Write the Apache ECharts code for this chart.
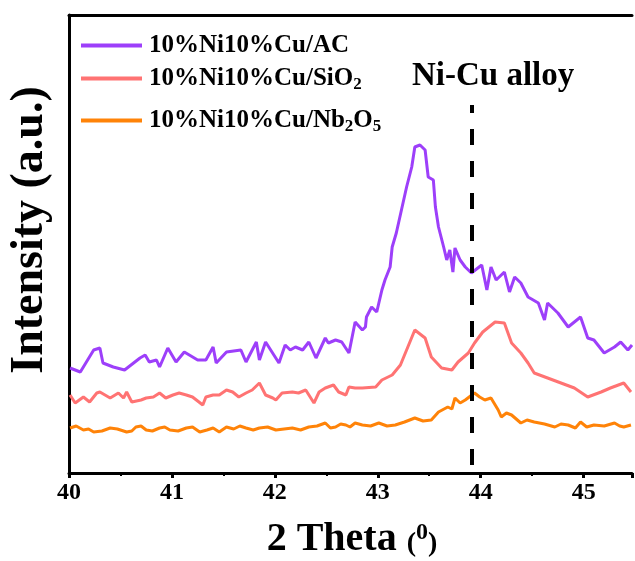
<!DOCTYPE html>
<html><head><meta charset="utf-8">
<script src="https://cdn.jsdelivr.net/npm/echarts@6/dist/echarts.min.js"></script>
<style>html,body{margin:0;padding:0;background:#fff}#c{width:635px;height:561px}</style>
</head><body><div id="c"></div>
<script>
const names = ['10%Ni10%Cu/AC', '10%Ni10%Cu/SiO2', '10%Ni10%Cu/Nb2O5'];
const xTicks = [40, 41, 42, 43, 44, 45];
const alloyPos = 43.91;

const acX = [40.01,40.11,40.24,40.30,40.33,40.43,40.54,40.69,40.74,40.78,40.85,40.88,40.96,41.04,41.12,41.25,41.33,41.40,41.43,41.53,41.67,41.72,41.82,41.85,41.91,42.04,42.10,42.15,42.20,42.27,42.33,42.40,42.49,42.52,42.59,42.65,42.72,42.78,42.85,42.88,42.89,42.94,42.99,43.04,43.07,43.12,43.14,43.18,43.23,43.28,43.33,43.36,43.41,43.46,43.49,43.54,43.56,43.59,43.64,43.67,43.70,43.73,43.75,43.80,43.85,43.91,44.01,44.06,44.10,44.15,44.23,44.28,44.33,44.39,44.46,44.56,44.62,44.65,44.75,44.85,44.97,45.04,45.10,45.20,45.30,45.36,45.43,45.47];
const acY = [105,101,123,125,110,106,103,115,118,111,113,106,125,111,121,113,113,126,110,121,123,111,131,113,131,110,128,123,126,123,131,115,135,130,133,131,120,151,143,146,156,166,161,183,193,206,226,240,263,286,306,326,328,323,296,293,266,246,226,213,223,201,225,213,206,200,208,183,206,193,201,181,196,190,176,170,153,170,160,146,156,135,133,120,126,131,123,128];

const siX = [40.01,40.06,40.14,40.20,40.27,40.30,40.40,40.48,40.53,40.56,40.61,40.70,40.75,40.82,40.88,40.94,41.01,41.07,41.14,41.20,41.30,41.33,41.40,41.46,41.53,41.59,41.65,41.72,41.78,41.85,41.91,41.98,42.01,42.07,42.17,42.23,42.30,42.38,42.43,42.49,42.57,42.62,42.69,42.72,42.78,42.85,42.98,43.04,43.14,43.22,43.28,43.36,43.46,43.52,43.62,43.72,43.78,43.88,43.94,44.02,44.14,44.23,44.30,44.39,44.46,44.52,44.65,44.78,44.91,45.04,45.17,45.26,45.39,45.46];
const siY = [78,70,76,71,80,81,75,80,75,81,71,73,75,76,80,75,78,80,78,76,68,76,78,78,83,81,76,80,83,90,78,75,73,80,81,80,83,70,81,85,88,81,78,86,85,85,86,93,98,108,123,143,135,116,105,103,111,120,130,141,151,150,130,120,110,100,95,90,85,76,81,85,90,81];

const nbX = [40.01,40.07,40.14,40.19,40.24,40.32,40.40,40.47,40.56,40.61,40.65,40.70,40.75,40.81,40.88,40.93,40.98,41.06,41.14,41.20,41.27,41.34,41.40,41.46,41.53,41.60,41.66,41.72,41.79,41.85,41.93,42.01,42.09,42.17,42.25,42.33,42.41,42.49,42.54,42.59,42.64,42.69,42.73,42.78,42.85,42.93,43.01,43.09,43.17,43.26,43.36,43.44,43.52,43.59,43.68,43.72,43.75,43.80,43.85,43.94,43.99,44.04,44.10,44.17,44.20,44.25,44.30,44.39,44.45,44.52,44.62,44.72,44.78,44.85,44.92,44.97,45.03,45.10,45.20,45.30,45.35,45.39,45.46];
const nbY = [45,47,43,44,41,42,45,44,41,42,46,47,43,42,45,46,43,42,45,46,41,43,45,41,46,44,47,45,43,45,46,43,44,45,43,46,47,50,45,46,49,48,46,50,48,47,50,47,48,51,55,52,53,61,66,64,75,70,73,80,76,73,75,63,56,60,58,50,53,51,49,46,49,48,45,51,46,48,47,50,47,46,48];

const colors = ['#9D3FFA', '#FF7373', '#FF8308'];
const FF = 'Liberation Serif';
const pair = (xs, ys) => xs.map((x, i) => [x, ys[i]]);
const dataSets = [pair(acX, acY), pair(siX, siY), pair(nbX, nbY)];

const legendFmt = n => {
  if (n.endsWith('SiO2')) return '{n|10%Ni10%Cu/SiO}{s|2}';
  if (n.endsWith('Nb2O5')) return '{n|10%Ni10%Cu/Nb}{s|2}{n|O}{s|5}';
  return '{n|' + n + '}';
};
const rich = {
  n: {fontFamily: FF, fontWeight: 'bold', fontSize: 25, color: '#000'},
  s: {fontFamily: FF, fontWeight: 'bold', fontSize: 17, color: '#000', padding: [12, 0, 0, 0]}
};
const legendTops = [33, 66, 108];

const chart = echarts.init(document.getElementById('c'), null, {renderer: 'canvas'});
chart.setOption({
  backgroundColor: '#fff',
  animation: false,
  grid: {left: 69, top: 15, right: 0, bottom: 88, containLabel: false},
  legend: names.map((n, i) => ({
    data: [n], left: 81, top: legendTops[i], padding: 0, icon: 'rect', itemWidth: 61, itemHeight: 4,
    formatter: legendFmt, textStyle: {rich: rich, fontFamily: FF, fontWeight: 'bold', fontSize: 25, color: '#000', padding: [0, 0, 0, 2]}
  })),
  xAxis: [
    {type: 'value', min: 40, max: 45.47, interval: 1, position: 'bottom',
     axisLine: {show: true, lineStyle: {color: '#000', width: 3}},
     axisTick: {show: true, inside: false, length: 5, lineStyle: {color: '#000', width: 3}},
     axisLabel: {show: true, margin: 8, color: '#000', fontFamily: FF, fontWeight: 'bold', fontSize: 24,
       formatter: v => xTicks.includes(Math.round(v * 1000) / 1000) ? String(v) : ''},
     splitLine: {show: false}},
    {type: 'value', min: 40, max: 45.47, interval: 0.5, position: 'bottom',
     axisLine: {show: false}, axisLabel: {show: false}, splitLine: {show: false},
     axisTick: {show: true, length: 3, lineStyle: {color: '#000', width: 2}}},
    {type: 'value', min: 40, max: 45.47, position: 'top',
     axisLine: {show: true, lineStyle: {color: '#000', width: 3}},
     axisTick: {show: false}, axisLabel: {show: false}, splitLine: {show: false}}
  ],
  yAxis: {type: 'value', min: 0, max: 458,
    axisLine: {show: true, lineStyle: {color: '#000', width: 3}},
    axisTick: {show: false}, axisLabel: {show: false}, splitLine: {show: false}},
  series: names.map((n, i) => ({
    name: n, type: 'line', xAxisIndex: 0, showSymbol: false, symbol: 'none',
    lineStyle: {color: colors[i], width: 3}, itemStyle: {color: colors[i]},
    data: dataSets[i], z: 3 - i,
    markLine: i === 0 ? {silent: true, symbol: ['none', 'none'], label: {show: false},
      lineStyle: {color: '#000', width: 4, type: [16, 16]},
      data: [[{coord: [alloyPos, 8]}, {coord: [alloyPos, 368]}]]} : undefined
  })),
  graphic: [
    {type: 'text', left: 412, top: 60, style: {text: 'Ni-Cu alloy', fontFamily: FF, fontWeight: 'bold', fontSize: 33, fill: '#000'}},
    {type: 'text', x: 30, y: 230, rotation: Math.PI / 2,
     style: {text: 'Intensity (a.u.)', fontFamily: FF, fontWeight: 'bold', fontSize: 46, fill: '#000', align: 'center', verticalAlign: 'middle'}},
    {type: 'text', x: 352, y: 540,
     style: {text: '{a|2 Theta }{p|(}{u|0}{p|)}', align: 'center', verticalAlign: 'middle',
       rich: {a: {fontFamily: FF, fontWeight: 'bold', fontSize: 40, fill: '#000'},
              p: {fontFamily: FF, fontWeight: 'bold', fontSize: 28, fill: '#000', padding: [8, 0, 0, 0]},
              u: {fontFamily: FF, fontWeight: 'bold', fontSize: 24, fill: '#000', padding: [0, 0, 14, 0]}}}}
  ]
});
</script></body></html>
